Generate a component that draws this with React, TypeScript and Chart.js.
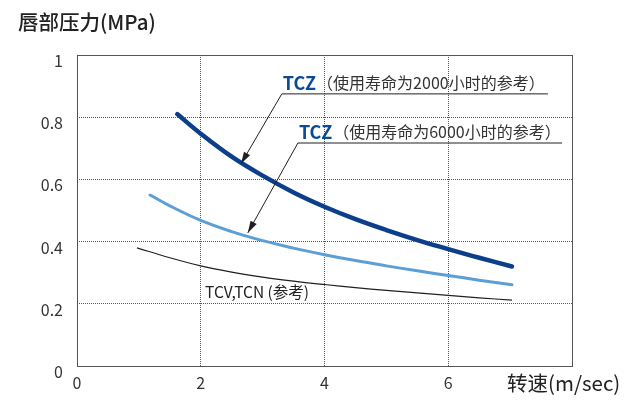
import React, { useEffect, useRef } from 'react';
import { Chart, registerables } from 'chart.js';

Chart.register(...registerables);

// TCZ (life 2000 h)
const tcz2000X = [1.62, 2, 2.5, 3, 3.5, 4, 4.5, 5, 5.5, 6, 6.5, 7.03];
const tcz2000Y = [0.81, 0.747, 0.673, 0.612, 0.558, 0.512, 0.472, 0.437, 0.405, 0.376, 0.348, 0.32];
// TCZ (life 6000 h)
const tcz6000X = [1.18, 1.5, 2, 2.5, 3, 3.5, 4, 4.5, 5, 5.5, 6, 6.5, 7.03];
const tcz6000Y = [0.55, 0.515, 0.468, 0.432, 0.403, 0.379, 0.358, 0.339, 0.322, 0.306, 0.291, 0.276, 0.261];
// TCV, TCN (reference)
const tcvX = [0.97, 1.5, 2, 2.5, 3, 3.5, 4, 4.5, 5, 5.5, 6, 6.5, 7.03];
const tcvY = [0.38, 0.348, 0.322, 0.302, 0.286, 0.273, 0.262, 0.252, 0.243, 0.235, 0.227, 0.219, 0.212];

const xTicks = [0, 2, 4, 6];
const yTitle = '唇部压力(MPa)';
const xTitle = '转速(m/sec)';
const label2000 = '（使用寿命为2000小时的参考）';
const label6000 = '（使用寿命为6000小时的参考）';
const labelTcv = 'TCV,TCN (参考)';

const zip = (xs: number[], ys: number[]) => xs.map((x, i) => ({ x, y: ys[i] }));

const FONT = '"Noto Sans CJK SC", "Noto Sans", sans-serif';
const DARK = '#0b3f8c';
const LIGHT = '#5b9fd6';
const BLACK = '#231f20';

function arrowHead(ctx: CanvasRenderingContext2D, fx: number, fy: number, tx: number, ty: number) {
  const ang = Math.atan2(ty - fy, tx - fx);
  const len = 12;
  const w = 3.5;
  ctx.beginPath();
  ctx.moveTo(tx, ty);
  ctx.lineTo(tx - len * Math.cos(ang) + w * Math.sin(ang), ty - len * Math.sin(ang) - w * Math.cos(ang));
  ctx.lineTo(tx - len * Math.cos(ang) - w * Math.sin(ang), ty - len * Math.sin(ang) + w * Math.cos(ang));
  ctx.closePath();
  ctx.fill();
}

const framePlugin = {
  id: 'frame',
  beforeDatasetsDraw(chart: any) {
    const { ctx, chartArea: a } = chart;
    ctx.save();
    ctx.strokeStyle = '#555';
    ctx.lineWidth = 1;
    ctx.strokeRect(Math.round(a.left) + 0.5, Math.round(a.top) + 0.5, Math.round(a.right - a.left), Math.round(a.bottom - a.top));
    ctx.restore();
  },
};

const annotPlugin = {
  id: 'annot',
  afterDatasetsDraw(chart: any) {
    const { ctx } = chart;
    const xs = chart.scales.x;
    const ys = chart.scales.y;
    const px = (v: number) => xs.getPixelForValue(v);
    const py = (v: number) => ys.getPixelForValue(v);
    ctx.save();

    const leaders = [
      { tip: [2.65, 0.65], elbow: [3.31, 0.875], end: 7.61, text: label2000 },
      { tip: [2.76, 0.428], elbow: [3.57, 0.717], end: 7.84, text: label6000 },
    ];
    leaders.forEach((l) => {
      const tx = px(l.tip[0]);
      const ty = py(l.tip[1]);
      const ex = px(l.elbow[0]);
      const ey = py(l.elbow[1]);
      const rx = px(l.end);
      ctx.strokeStyle = BLACK;
      ctx.fillStyle = BLACK;
      ctx.lineWidth = 1;
      ctx.beginPath();
      ctx.moveTo(rx, ey);
      ctx.lineTo(ex, ey);
      ctx.lineTo(tx, ty);
      ctx.stroke();
      arrowHead(ctx, ex, ey, tx, ty);

      ctx.textBaseline = 'middle';
      ctx.textAlign = 'left';
      ctx.font = `bold 18px ${FONT}`;
      ctx.fillStyle = '#0b4a94';
      ctx.fillText('TCZ', ex + 1, ey - 11);
      const w = ctx.measureText('TCZ').width;
      ctx.font = `16px ${FONT}`;
      ctx.fillStyle = '#333';
      ctx.fillText(l.text, ex + 1 + w + 1, ey - 11);
    });

    ctx.font = `15.5px ${FONT}`;
    ctx.fillStyle = '#222';
    ctx.textBaseline = 'middle';
    ctx.textAlign = 'left';
    ctx.fillText(labelTcv, px(2.07), py(0.238));

    ctx.restore();
  },
  afterDraw(chart: any) {
    const { ctx } = chart;
    ctx.save();
    ctx.fillStyle = '#222';
    ctx.textBaseline = 'middle';
    ctx.textAlign = 'left';
    ctx.font = `500 20.5px ${FONT}`;
    ctx.fillText(yTitle, 18, 22);
    ctx.font = `20.5px ${FONT}`;
    ctx.fillText(xTitle, 507, 383);
    ctx.restore();
  },
};

export default function App() {
  const ref = useRef<HTMLCanvasElement | null>(null);
  useEffect(() => {
    if (!ref.current) return;
    const chart = new Chart(ref.current, {
      type: 'line',
      data: {
        datasets: [
          {
            label: 'TCZ 2000',
            data: zip(tcz2000X, tcz2000Y),
            borderColor: DARK,
            borderWidth: 4.5,
            pointRadius: 0,
            tension: 0.4,
            borderCapStyle: 'round',
          },
          {
            label: 'TCZ 6000',
            data: zip(tcz6000X, tcz6000Y),
            borderColor: LIGHT,
            borderWidth: 3,
            pointRadius: 0,
            tension: 0.4,
            borderCapStyle: 'round',
          },
          {
            label: 'TCV,TCN',
            data: zip(tcvX, tcvY),
            borderColor: BLACK,
            borderWidth: 1.2,
            pointRadius: 0,
            tension: 0.4,
          },
        ],
      },
      options: {
        animation: false,
        responsive: false,
        layout: { padding: { left: 0, top: 55, right: 53, bottom: 0 } },
        plugins: { legend: { display: false }, tooltip: { enabled: false } },
        scales: {
          x: {
            type: 'linear',
            min: 0,
            max: 8,
            afterFit: (s: any) => {
              s.height = 35;
            },
            afterBuildTicks: (s: any) => {
              s.ticks = [...xTicks, 8].map((v) => ({ value: v }));
            },
            ticks: {
              padding: 7,
              color: '#333',
              font: { family: FONT, size: 16 },
              maxRotation: 0,
              autoSkip: false,
              callback: (v: any) => (xTicks.includes(Number(v)) ? String(v) : ''),
            },
            grid: { color: '#555', drawTicks: false, lineWidth: 1 },
            border: { display: false, dash: [1, 1] },
          },
          y: {
            type: 'linear',
            min: 0,
            max: 1,
            afterFit: (s: any) => {
              s.width = 77;
            },
            ticks: {
              stepSize: 0.2,
              padding: 14,
              labelOffset: 6,
              color: '#333',
              font: { family: FONT, size: 16 },
              callback: (v: any) => String(Math.round(Number(v) * 10) / 10),
            },
            grid: { color: '#555', drawTicks: false, lineWidth: 1 },
            border: { display: false, dash: [1, 1] },
          },
        },
      },
      plugins: [framePlugin, annotPlugin],
    } as any);
    return () => chart.destroy();
  }, []);
  return (
    <div style={{ position: 'fixed', left: 0, top: 0, width: 625, height: 401, background: '#fff' }}>
      <canvas ref={ref} width={625} height={401} style={{ width: 625, height: 401 }} />
    </div>
  );
}
